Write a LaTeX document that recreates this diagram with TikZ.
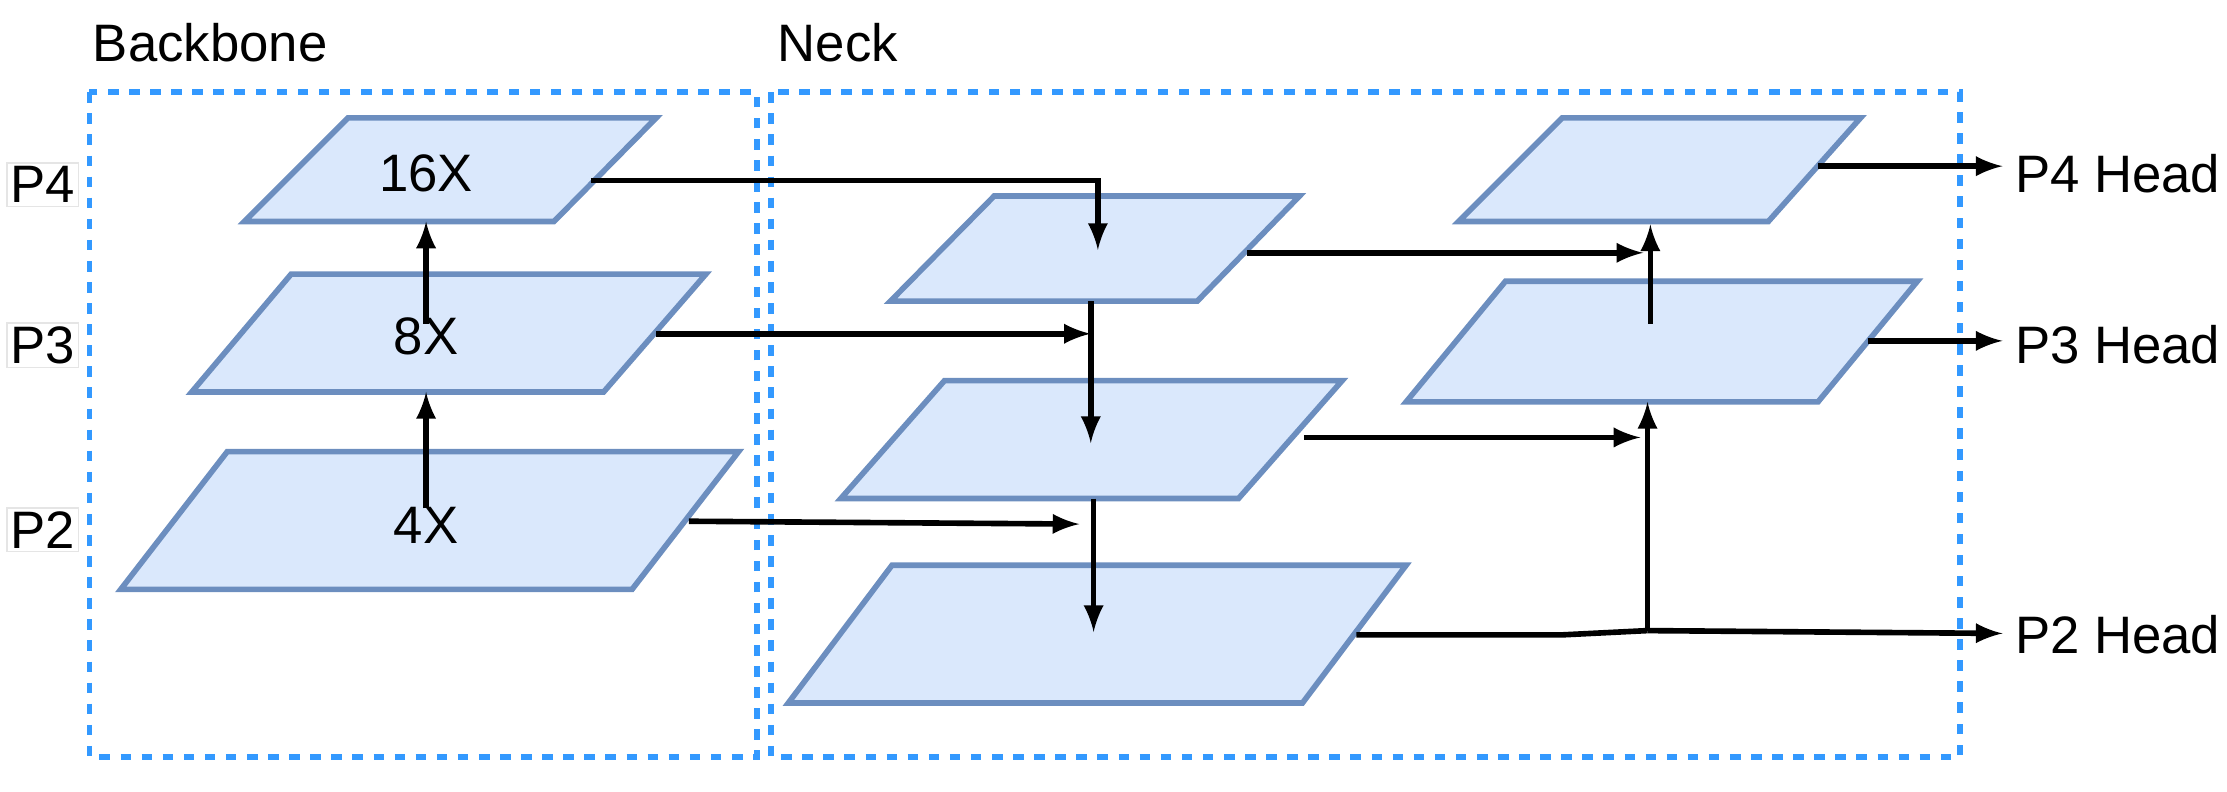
\documentclass[tikz,border=0pt]{standalone}
\usepackage{fontspec}
\setmainfont{Liberation Sans}
\definecolor{layerfill}{RGB}{218,232,252}
\definecolor{layerdraw}{RGB}{108,142,191}
\definecolor{boxdash}{RGB}{51,153,255}
\tikzset{
  layer/.style={fill=layerfill,draw=layerdraw,line width=1.6pt},
  box/.style={draw=boxdash,dashed,line width=1.6pt},
  conn/.style={->,>=latex,line width=1.6pt},
  txt/.style={font=\fontsize{15}{18}\selectfont}
}
\begin{document}
\begin{tikzpicture}[x=0.014203cm,y=-0.014203cm]
  \useasboundingbox (0,0) rectangle (1568,557);
  %
  \draw[box] (63,65) rectangle (533,533);
  \draw[box] (543,65) rectangle (1380,533);
  \node[txt] (bb) at (148,30) {Backbone};
  \node[txt] (nk) at (590,30) {Neck};
  %
  \draw[layer] (245,83) -- (462,83) -- (390,156) -- (172,156) -- cycle;
  \draw[layer] (205,193) -- (497,193) -- (425,276) -- (135,276) -- cycle;
  \draw[layer] (160,318) -- (520,318) -- (445,415) -- (85,415) -- cycle;
  \draw[layer] (700,138) -- (915,138) -- (843,212) -- (627,212) -- cycle;
  \draw[layer] (665,268) -- (945,268) -- (872,351) -- (592,351) -- cycle;
  \draw[layer] (628,398) -- (990,398) -- (917,495) -- (555,495) -- cycle;
  \draw[layer] (1100,83) -- (1310,83) -- (1245,156) -- (1027,156) -- cycle;
  \draw[layer] (1060,198) -- (1350,198) -- (1280,283) -- (990,283) -- cycle;
  %
  \node[txt,draw=black!10,inner sep=1pt] (p4) at (30,130) {P4};
  \node[txt,draw=black!10,inner sep=1pt] (p3) at (30,243) {P3};
  \node[txt,draw=black!10,inner sep=1pt] (p2) at (30,373) {P2};
  \node[txt] (x16) at (300,122) {16X};
  \node[txt] (x8) at (300,237) {8X};
  \node[txt] (x4) at (300,370) {4X};
  \node[txt,anchor=west] (h4) at (1410,122) {P4 Head};
  \node[txt,anchor=west] (h3) at (1410,243) {P3 Head};
  \node[txt,anchor=west] (h2) at (1410,447) {P2 Head};
  %
  \draw[conn] (300,358) -- (300,276);
  \draw[conn] (300,228) -- (300,156);
  \draw[conn] (416,127) -- (773,127) -- (773,176);
  \draw[conn] (462,235) -- (768,235);
  \draw[conn] (768,212) -- (768,312);
  \draw[conn] (485,367) -- (760,369);
  \draw[conn] (770,351) -- (770,445);
  \draw[conn] (878,178) -- (1157,178);
  \draw[conn] (1162,228) -- (1162,158);
  \draw[conn] (918,308) -- (1155,308);
  \draw[line width=1.6pt] (955,447) -- (1100,447) -- (1160,444);
  \draw[conn] (1160,444) -- (1160,283);
  \draw[conn] (1160,444) -- (1410,446);
  \draw[conn] (1280,117) -- (1410,117);
  \draw[conn] (1315,240) -- (1410,240);
\end{tikzpicture}
\end{document}
